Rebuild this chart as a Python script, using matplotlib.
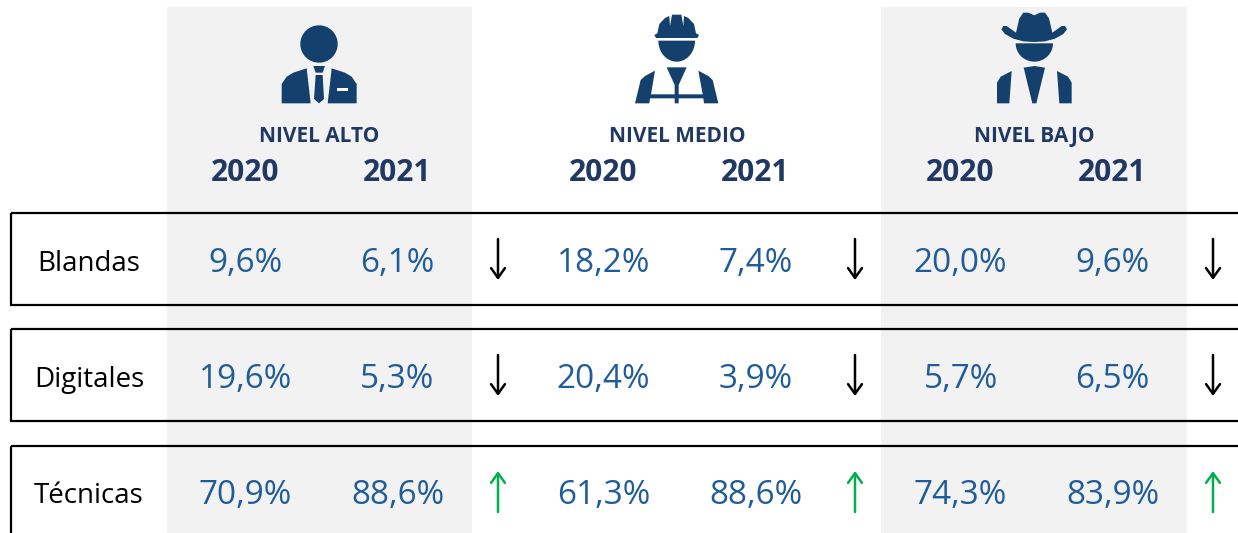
# Skills table by job level, 2020 vs 2021

import numpy as np
import matplotlib.pyplot as plt
from matplotlib.patches import Rectangle, Polygon, Circle

plt.rcParams['font.family'] = ['Open Sans', 'DejaVu Sans']

levels = ["NIVEL ALTO", "NIVEL MEDIO", "NIVEL BAJO"]
years = ["2020", "2021"]
skills = ["Blandas", "Digitales", "Técnicas"]
alto = [["9,6%", "6,1%"], ["19,6%", "5,3%"], ["70,9%", "88,6%"]]
medio = [["18,2%", "7,4%"], ["20,4%", "3,9%"], ["61,3%", "88,6%"]]
bajo = [["20,0%", "9,6%"], ["5,7%", "6,5%"], ["74,3%", "83,9%"]]
trend_alto = ["down", "down", "up"]
trend_medio = ["down", "down", "up"]
trend_bajo = ["down", "down", "up"]

navy = "#1f3864"
blue = "#1f5c99"
icon = "#14406e"
grey = "#f2f2f2"
green = "#00b050"

fig = plt.figure(figsize=(12.38, 5.33), dpi=100)
ax = fig.add_axes([0, 0, 1, 1])
ax.set_xlim(0, 1238)
ax.set_ylim(533, 0)
ax.axis("off")

# grey bands behind 1st and 3rd group
ax.add_patch(Rectangle((167, 7), 305, 530, fc=grey, ec="none"))
ax.add_patch(Rectangle((881, 7), 306, 530, fc=grey, ec="none"))

# row frames, open on the right
for top, h in [(213, 92), (329, 92), (446, 100)]:
    ax.add_patch(Rectangle((11, top), 1300, h, fc="none", ec="black", lw=1.6))

col_x = [[245, 397], [603, 755], [960, 1112]]
title_x = [319, 677, 1034]
arrow_x = [498, 855, 1213]
row_base = [272, 388, 504]
arrow_y = [(239, 280), (355, 396), (471, 512)]

for i, level in enumerate(levels):
    ax.text(title_x[i], 142, level, ha="center", va="baseline", color=navy,
            fontsize=15, fontweight="bold")
    for j, yr in enumerate(years):
        ax.text(col_x[i][j], 181, yr, ha="center", va="baseline", color=navy,
                fontsize=21.5, fontweight="bold")

for r, skill in enumerate(skills):
    ax.text(89, row_base[r] - 1, skill, ha="center", va="baseline", color="black", fontsize=20)
    for i, group in enumerate([alto, medio, bajo]):
        for j in range(2):
            ax.text(col_x[i][j] + 0.5, row_base[r], group[r][j], ha="center", va="baseline",
                    color=blue, fontsize=24)

for i, trend in enumerate([trend_alto, trend_medio, trend_bajo]):
    for r, t in enumerate(trend):
        y0, y1 = arrow_y[r]
        if t == "down":
            start, end, c = (arrow_x[i], y0), (arrow_x[i], y1), "black"
        else:
            start, end, c = (arrow_x[i], y1), (arrow_x[i], y0), green
        ax.annotate("", xy=end, xytext=start,
                    arrowprops=dict(arrowstyle="->,head_length=0.7,head_width=0.5",
                                    color=c, lw=1.8, shrinkA=0, shrinkB=0))


# icons, outlines taken from the 3x crops
def poly(pts, ox, color=icon):
    pts = np.array(pts, dtype=float) / 3 + [ox, 0]
    ax.add_patch(Polygon(pts, closed=True, fc=color, ec="none"))


def face(x0, x1, ytop, ybot, ox):
    t = np.linspace(0, np.pi, 40)
    cx, rx = (x0 + x1) / 2, (x1 - x0) / 2
    pts = np.column_stack([cx + rx * np.cos(t), ytop + (ybot - ytop) * np.sin(t)])
    poly(pts, ox)


# suit
ax.add_patch(Circle((319, 44), 18.7, fc=icon, ec="none"))
poly([(65, 310), (65, 252), (80, 230), (100, 218), (140, 205), (152, 310)], 260)
poly([(290, 310), (290, 252), (275, 230), (255, 218), (215, 205), (203, 310)], 260)
poly([(160, 198), (195, 198), (188, 218), (167, 218)], 260)
poly([(167, 225), (188, 225), (192, 297), (177, 310), (162, 297)], 260)
poly([(230, 265), (265, 265), (265, 272), (230, 272)], 260, "white")

# helmet
poly([(103, 105), (112, 100), (118, 72), (135, 54), (148, 48), (150, 78), (156, 44),
      (184, 44), (190, 78), (192, 48), (205, 54), (222, 72),
      (228, 100), (237, 105), (232, 114), (108, 114)], 620)
face(115, 225, 122, 185, 620)
poly([(45, 310), (62, 240), (75, 228), (105, 212), (93, 283), (248, 283), (235, 212),
      (265, 228), (278, 240), (295, 310), (252, 310), (250, 295), (90, 295), (88, 310)], 620)
poly([(140, 202), (200, 202), (176, 255), (176, 310), (164, 310), (164, 255)], 620)

# hat
poly([(64, 88), (70, 78), (80, 78), (108, 98), (118, 55), (130, 38), (145, 38), (163, 46),
      (180, 38), (195, 38), (207, 55), (217, 98), (245, 78), (255, 78), (261, 88),
      (250, 102), (225, 116), (195, 124), (163, 126), (130, 124), (100, 116), (75, 102)], 980)
face(107, 219, 130, 185, 980)
poly([(51, 310), (51, 248), (62, 230), (95, 213), (88, 310)], 980)
poly([(275, 310), (275, 248), (264, 230), (231, 213), (238, 310)], 980)
poly([(131, 203), (163, 198), (195, 203), (169, 310), (157, 310)], 980)

plt.savefig("out.png", dpi=100)
